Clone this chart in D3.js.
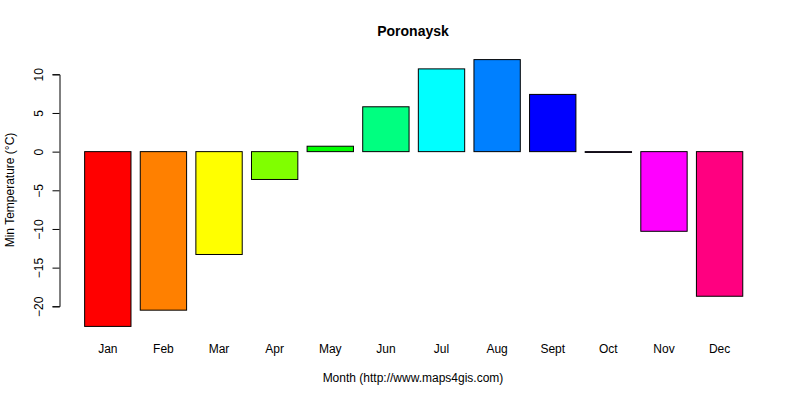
<!DOCTYPE html>
<html>
<head>
<meta charset="utf-8">
<script src="https://cdn.jsdelivr.net/npm/d3@7"></script>
<style>
  body { margin: 0; background: #fff; }
  text { font-family: "Liberation Sans", Arial, sans-serif; }
</style>
</head>
<body>
<div id="chart"></div>
<script>
const months = ["Jan", "Feb", "Mar", "Apr", "May", "Jun", "Jul", "Aug", "Sept", "Oct", "Nov", "Dec"];
const minTemp = [-22.6, -20.5, -13.3, -3.6, 0.7, 5.8, 10.7, 11.9, 7.4, -0.1, -10.3, -18.7];
const barColors = ["#FF0000", "#FF8000", "#FFFF00", "#80FF00", "#00FF00", "#00FF80",
                   "#00FFFF", "#0080FF", "#0000FF", "#8000FF", "#FF00FF", "#FF0080"];
const yTicks = [-20, -15, -10, -5, 0, 5, 10];

const width = 800, height = 400;

const svg = d3.select("#chart")
  .append("svg")
  .attr("width", width)
  .attr("height", height);

// x: bars of width 1 with 0.2 space, like R barplot
const x = d3.scaleBand()
  .domain(months)
  .range([80.0, 747.4])
  .paddingInner(1 / 6)
  .paddingOuter(1 / 12);

const y = d3.scaleLinear()
  .domain([-20, 10])
  .range([306.3, 74.3]);

// bars
svg.selectAll("rect.bar")
  .data(minTemp)
  .enter()
  .append("rect")
  .attr("class", "bar")
  .attr("x", (d, i) => x(months[i]))
  .attr("width", x.bandwidth())
  .attr("y", d => y(Math.max(0, d)))
  .attr("height", d => Math.abs(y(d) - y(0)))
  .attr("fill", (d, i) => barColors[i])
  .attr("stroke", "#000")
  .attr("stroke-width", 1);

// y axis
const yAxis = svg.append("g")
  .attr("transform", "translate(59.5,0)")
  .call(d3.axisLeft(y).tickValues(yTicks).tickSize(7).tickFormat(d3.format("d")));
yAxis.select(".domain").attr("stroke", "#000");
yAxis.selectAll(".tick line").attr("stroke", "#000");
yAxis.selectAll(".tick text")
  .attr("x", 0)
  .attr("y", 0)
  .attr("dy", 0)
  .attr("transform", "translate(-17,0) rotate(-90)")
  .attr("text-anchor", "middle")
  .attr("font-size", 12)
  .attr("fill", "#000")
  .style("font-family", "'Liberation Sans', Arial, sans-serif");

// month labels
svg.selectAll("text.month")
  .data(months)
  .enter()
  .append("text")
  .attr("class", "month")
  .attr("x", d => x(d) + x.bandwidth() / 2)
  .attr("y", 353)
  .attr("text-anchor", "middle")
  .attr("font-size", 12)
  .text(d => d);

// title
svg.append("text")
  .attr("x", 413)
  .attr("y", 36)
  .attr("text-anchor", "middle")
  .attr("font-size", 14)
  .attr("font-weight", "bold")
  .text("Poronaysk");

// axis titles
svg.append("text")
  .attr("x", 413)
  .attr("y", 382)
  .attr("text-anchor", "middle")
  .attr("font-size", 12)
  .text("Month (http://www.maps4gis.com)");

svg.append("text")
  .attr("transform", "translate(14,190) rotate(-90)")
  .attr("text-anchor", "middle")
  .attr("font-size", 12)
  .text("Min Temperature (°C)");
</script>
</body>
</html>
